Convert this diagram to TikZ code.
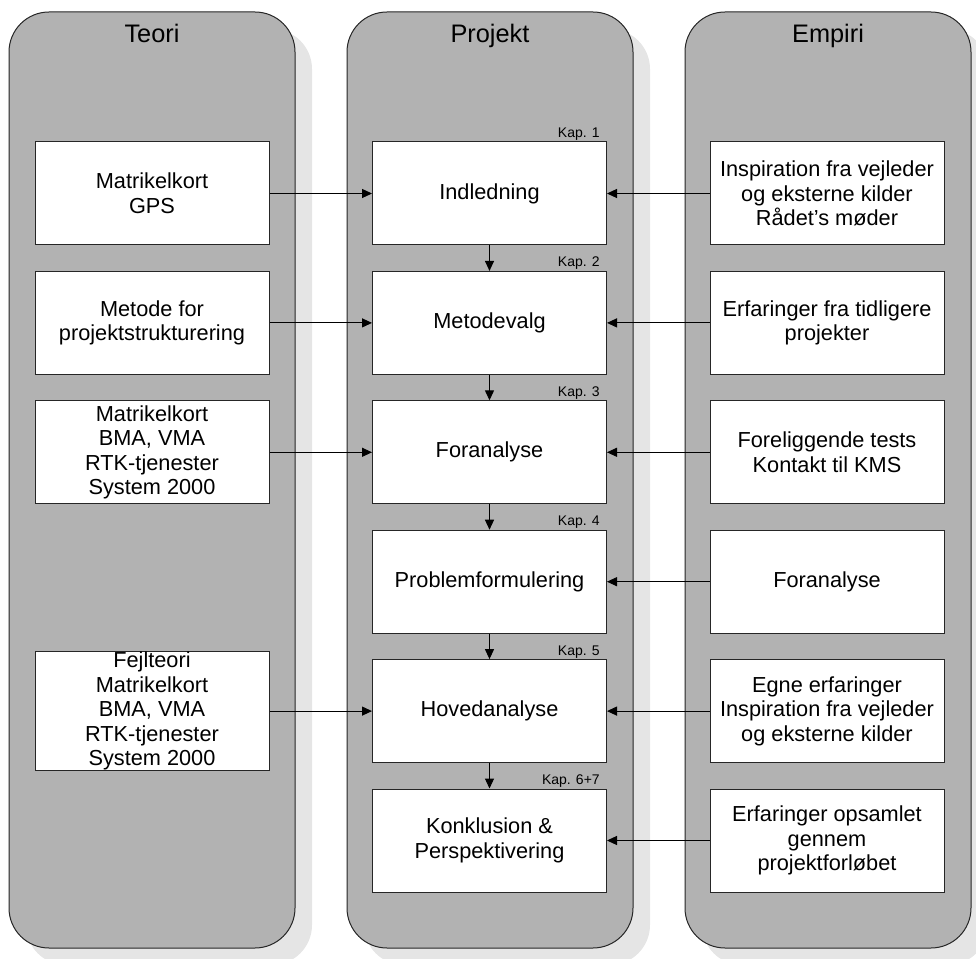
\documentclass[tikz,border=0pt]{standalone}
\usepackage{fontspec}
\setmainfont{Liberation Sans}
\usetikzlibrary{arrows.meta,calc}
\definecolor{lanegray}{gray}{0.70}
\definecolor{shadowgray}{gray}{0.90}
\definecolor{edgegray}{gray}{0.15}
\tikzset{
  lane/.style={fill=lanegray, draw=edgegray, line width=0.75pt, rounded corners=30pt},
  laneshadow/.style={fill=shadowgray, rounded corners=30pt},
  lanetitle/.style={anchor=base, font=\fontsize{19}{22}\selectfont},
  stage/.style={draw=edgegray, fill=white, line width=0.75pt, inner sep=0pt,
    minimum width=175.5pt, minimum height=77.25pt, align=center,
    font=\fontsize{16.3}{18.4}\selectfont},
  kap/.style={anchor=base east, inner sep=0pt, font=\fontsize{10.5}{12}\selectfont},
  flow/.style={draw=black, line width=0.75pt, -{Triangle[length=7.5pt,width=6.8pt]}}
}
\begin{document}
\begin{tikzpicture}[x=0.75pt,y=-0.75pt]
\useasboundingbox (0,0) rectangle (976,959);
% lane shadows
\foreach \lx in {9,347,685}
  \fill[laneshadow] (\lx+17,12+17) rectangle (\lx+286+17,948+17);
% lanes
\foreach \lx in {9,347,685}
  \draw[lane] (\lx,12) rectangle (\lx+286,948);
\node[lanetitle] (tTeori) at (152,43) {Teori};
\node[lanetitle] (tProjekt) at (490,43) {Projekt};
\node[lanetitle] (tEmpiri) at (828,43) {Empiri};

% project stages
\node[stage] (p1) at (489.5,193.5) {Indledning};
\node[stage] (p2) at (489.5,322.9) {Metodevalg};
\node[stage] (p3) at (489.5,452.3) {Foranalyse};
\node[stage] (p4) at (489.5,581.7) {Problemformulering};
\node[stage] (p5) at (489.5,711.1) {Hovedanalyse};
\node[stage] (p6) at (489.5,840.5) {Konklusion \&\\Perspektivering};

% chapter labels
\node[kap] (k1) at ($(p1.north east)+(-7,-4)$) {Kap. 1};
\node[kap] (k2) at ($(p2.north east)+(-7,-4)$) {Kap. 2};
\node[kap] (k3) at ($(p3.north east)+(-7,-4)$) {Kap. 3};
\node[kap] (k4) at ($(p4.north east)+(-7,-4)$) {Kap. 4};
\node[kap] (k5) at ($(p5.north east)+(-7,-4)$) {Kap. 5};
\node[kap] (k6) at ($(p6.north east)+(-7,-4)$) {Kap. 6+7};

% theory inputs
\node[stage] (t1) at (152,193.5) {Matrikelkort\\GPS};
\node[stage] (t2) at (152,322.9) {Metode for\\projektstrukturering};
\node[stage] (t3) at (152,452.3) {Matrikelkort\\BMA, VMA\\RTK-tjenester\\System 2000};
\node[stage] (t5) at (152,711.1) {Fejlteori\\Matrikelkort\\BMA, VMA\\RTK-tjenester\\System 2000};

% empirical inputs
\node[stage] (e1) at (827,193.5) {Inspiration fra vejleder\\og eksterne kilder\\Rådet’s møder};
\node[stage] (e2) at (827,322.9) {Erfaringer fra tidligere\\projekter};
\node[stage] (e3) at (827,452.3) {Foreliggende tests\\Kontakt til KMS};
\node[stage] (e4) at (827,581.7) {Foranalyse};
\node[stage] (e5) at (827,711.1) {Egne erfaringer\\Inspiration fra vejleder\\og eksterne kilder};
\node[stage] (e6) at (827,840.5) {Erfaringer opsamlet\\gennem\\projektforløbet};

% project flow
\draw[flow] (p1) -- (p2);
\draw[flow] (p2) -- (p3);
\draw[flow] (p3) -- (p4);
\draw[flow] (p4) -- (p5);
\draw[flow] (p5) -- (p6);

% inputs into the project
\draw[flow] (t1) -- (p1);
\draw[flow] (t2) -- (p2);
\draw[flow] (t3) -- (p3);
\draw[flow] (t5) -- (p5);
\draw[flow] (e1) -- (p1);
\draw[flow] (e2) -- (p2);
\draw[flow] (e3) -- (p3);
\draw[flow] (e4) -- (p4);
\draw[flow] (e5) -- (p5);
\draw[flow] (e6) -- (p6);
\end{tikzpicture}
\end{document}
